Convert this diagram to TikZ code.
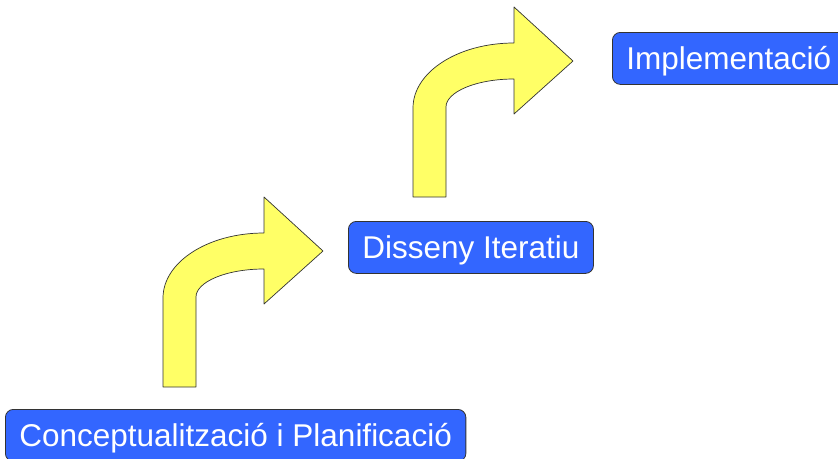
\documentclass[tikz,border=0pt]{standalone}
\usepackage{fontspec}
\setmainfont{Liberation Sans}
\usepackage{tikz}
\usetikzlibrary{positioning}

\definecolor{stageblue}{HTML}{3366FF}
\definecolor{arrowyellow}{HTML}{FFFF66}
\definecolor{edgegray}{HTML}{333333}

\tikzset{
    stage/.style={draw=edgegray, line width=0.8pt, fill=stageblue, text=white,
        rounded corners=8pt, anchor=north west, minimum height=52pt,
        inner xsep=14pt, inner ysep=0pt, text height=22.4pt, text depth=0pt,
        font=\fontsize{31.5}{37}\selectfont},
    bentarrow/.style={draw=edgegray, line width=0.7pt, fill=arrowyellow, line join=round}
}

\begin{document}
\begin{tikzpicture}[x=1pt,y=-1pt]
    % Canvas
    \useasboundingbox (0,0) rectangle (838,458);
    \clip (0,0) rectangle (838,458);

    % Bent arrows between the stages
    \foreach \dx/\dy in {0/0,250/-190} {
        \draw[bentarrow, shift={(\dx,\dy)}] (163,387) -- (163,298)
            .. controls (163,262) and (208,233) .. (264,233)
            -- (264,197) -- (323,251) -- (264,304) -- (264,269)
            .. controls (226,269) and (196,282) .. (196,297)
            -- (196,387) -- cycle;
    }

    % Stages
    \node[stage] (concept) at (5,409) {Conceptualització i Planificació};
    \node[stage] (design) at (348,221) {Disseny Iteratiu};
    \node[stage] (implement) at (612,32) {Implementació};
\end{tikzpicture}
\end{document}
